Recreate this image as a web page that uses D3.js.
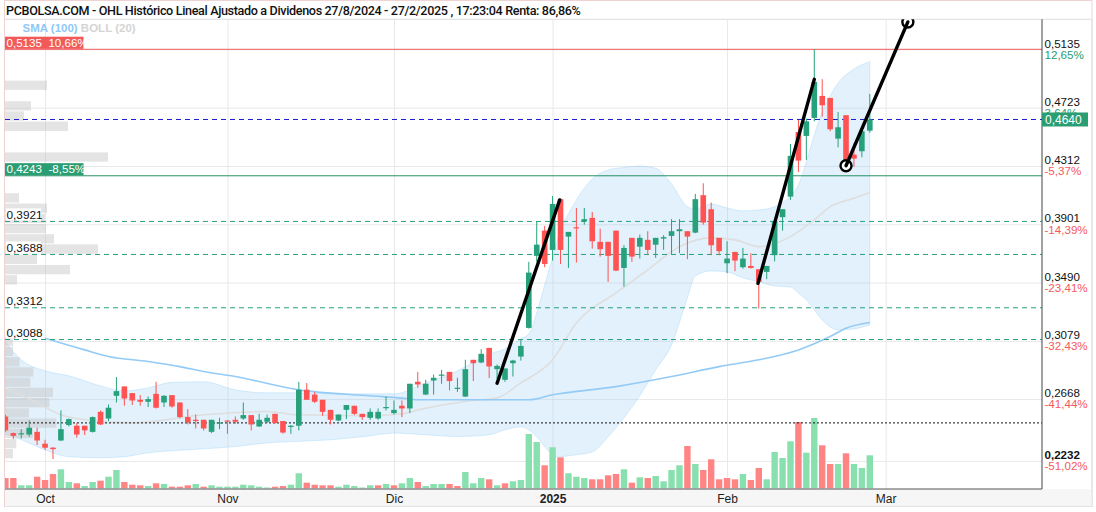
<!DOCTYPE html>
<html>
<head>
<meta charset="utf-8">
<script src="https://cdnjs.cloudflare.com/ajax/libs/d3/7.8.5/d3.min.js"></script>
<style>
  body { margin: 0; background: #fff; }
  svg { display: block; font-family: "Liberation Sans", Arial, sans-serif; }
  .pre { white-space: pre; }
</style>
</head>
<body>
<svg id="chart" width="1096" height="512"></svg>
<script>
// ---- data (trading day index 0 = 24/9/2024) ----
const openP = [
  .2545,.2428,.2420,.2418,.2437,.2353,.2325,.2376,.2485,.2480,
  .2480,.2437,.2578,.2531,.2691,.2757,.2710,.2663,.2649,.2705,
  .2644,.2696,.2644,.2541,.2522,.2522,.2437,.2499,.2517,.2522,
  .2531,.2555,.2475,.2508,.2564,.2513,.2473,.2480,.2734,.2700,
  .2663,.2592,.2517,.2592,.2621,.2564,.2536,.2531,.2607,.2569,
  .2621,.2602,.2790,.2700,.2799,.2837,.2860,.2743,.2686,.2945,
  .2926,.3029,.2879,.2804,.2921,.2968,.3170,.3678,.3856,.3720,
  .4078,.3814,.3880,.3922,.3946,.3777,.3777,.3856,.3593,.3805,
  .3743,.3791,.3757,.3800,.3819,.3852,.3852,.3842,.4106,.4007,
  .3805,.3626,.3706,.3598,.3607,.3584,.3565,.3683,.3951,.4096,
  .4552,.4524,.4651,.4806,.4792,.4505,.4670,.4392,.4416,.4561];
const highP = [
  .2557,.2432,.2456,.2517,.2466,.2381,.2330,.2588,.2531,.2499,
  .2480,.2545,.2588,.2630,.2823,.2757,.2710,.2696,.2686,.2790,
  .2696,.2696,.2644,.2597,.2559,.2522,.2522,.2536,.2517,.2545,
  .2644,.2555,.2564,.2559,.2564,.2513,.2485,.2790,.2781,.2719,
  .2663,.2592,.2559,.2626,.2621,.2564,.2602,.2602,.2686,.2658,
  .2658,.2776,.2860,.2804,.2841,.2874,.2860,.2818,.2945,.2945,
  .3020,.3029,.2912,.2884,.2945,.3085,.3636,.3922,.3889,.4101,
  .4078,.3847,.4016,.4016,.3988,.3870,.3777,.3856,.3753,.3805,
  .3828,.3852,.3805,.3824,.3937,.3937,.3852,.4115,.4190,.4054,
  .3805,.3781,.3706,.3734,.3697,.3584,.3607,.3922,.4007,.4467,
  .4637,.4646,.5135,.4924,.4792,.4693,.4670,.4472,.4557,.4820];
const lowP = [
  .2437,.2386,.2390,.2404,.2344,.2310,.2245,.2372,.2475,.2395,
  .2414,.2432,.2485,.2513,.2644,.2621,.2626,.2621,.2612,.2602,
  .2612,.2607,.2531,.2489,.2461,.2447,.2428,.2456,.2423,.2494,
  .2522,.2447,.2471,.2499,.2494,.2423,.2423,.2447,.2663,.2640,
  .2550,.2489,.2513,.2527,.2555,.2522,.2522,.2522,.2588,.2559,
  .2541,.2569,.2748,.2696,.2700,.2776,.2729,.2719,.2682,.2795,
  .2921,.2816,.2809,.2790,.2827,.2940,.3165,.3636,.3598,.3645,
  .3621,.3593,.3631,.3898,.3729,.3673,.3495,.3570,.3461,.3636,
  .3659,.3683,.3664,.3720,.3692,.3697,.3655,.3838,.3898,.3683,
  .3683,.3556,.3570,.3588,.3588,.3306,.3514,.3640,.3856,.4073,
  .4270,.4355,.4627,.4660,.4557,.4444,.4331,.4307,.4374,.4547];
const closeP = [
  .2447,.2409,.2427,.2466,.2376,.2325,.2315,.2456,.2527,.2418,
  .2447,.2541,.2489,.2607,.2724,.2672,.2658,.2649,.2668,.2607,
  .2691,.2616,.2541,.2503,.2513,.2461,.2522,.2503,.2513,.2508,
  .2555,.2489,.2522,.2536,.2499,.2432,.2480,.2734,.2663,.2649,
  .2578,.2522,.2559,.2626,.2564,.2541,.2578,.2578,.2612,.2592,
  .2602,.2776,.2771,.2776,.2818,.2841,.2795,.2748,.2879,.2921,
  .2987,.2898,.2902,.2884,.2940,.3043,.3560,.3757,.3621,.4044,
  .3720,.3847,.3875,.3937,.3781,.3725,.3678,.3574,.3734,.3673,
  .3805,.3720,.3805,.3810,.3852,.3866,.3814,.4078,.3913,.3753,
  .3711,.3659,.3645,.3659,.3593,.3495,.3607,.3922,.4007,.4383,
  .4350,.4627,.4905,.4740,.4571,.4585,.4341,.4364,.4557,.4640];
// volume (millions) and its colour: g = up on previous close, r = down
const volume = [
  1.03,1.03,0.30,0.30,1.16,0.83,1.43,1.90,0.63,0.50,
  0.23,0.63,0.76,1.16,1.83,0.63,0.36,0.30,0.23,0.50,
  0.43,0.16,0.16,0.30,0.43,0.16,0.30,0.16,0.16,0.16,
  0.36,0.30,0.16,0.08,0.16,0.23,0.36,1.50,0.56,0.36,
  0.30,0.30,0.16,0.36,0.23,0.08,0.30,0.30,0.43,0.30,
  0.50,1.03,0.63,0.23,0.43,0.43,0.43,0.23,1.63,0.50,
  1.03,0.90,0.30,0.50,0.70,0.83,5.43,4.63,2.30,4.10,
  3.10,1.50,1.16,1.03,0.90,0.90,1.30,1.43,1.90,0.56,
  1.10,1.03,1.23,0.70,1.83,2.30,4.23,2.43,1.83,2.90,
  0.90,1.03,0.90,1.43,0.83,2.03,0.90,3.63,3.03,4.70,
  6.63,3.56,7.03,4.30,2.43,2.43,3.50,2.43,2.03,3.30];
const volDir = ("rrggrrrggr" + "ggrggrrrgr" + "grrrgrgggg" + "ggggrrggrr" + "rrgggggrgr" +
                "ggrgggrrgg" + "grgrggggrg" + "rgggrrrrgr" + "grggggrgrr" + "rrrgrrgggg" +
                "rggrrgrggg").split('');

// Bollinger (20) band, sampled points
const bandIdx = [0,2,5,8,12,15,18,21,25,29,33,37,41,45,49,53,57,61,63,65,66,67,68,69,70,71,72,74,76,78,80,82,84,86,87,89,91,93,95,97,99,100,101,102,103,104,105,107,109];
const bandUp = [.3072,.2945,.2867,.2832,.2761,.2726,.2747,.2786,.2790,.2733,.2712,.2712,.2705,.2705,.2705,.2782,.2867,.2987,.3022,.3093,.3128,.3276,.3473,.3664,.3861,.3974,.4073,.4221,.4284,.4302,.4312,.4296,.4185,.4025,.4009,.4044,.4016,.3995,.4002,.4025,.4101,.4178,.4341,.4531,.4693,.4806,.4897,.4996,.5048];
const bandLo = [.2423,.2381,.2310,.2261,.2254,.2261,.2289,.2303,.2317,.2333,.2359,.2370,.2381,.2402,.2428,.2416,.2404,.2416,.2451,.2472,.2451,.2402,.2333,.2275,.2261,.2268,.2275,.2296,.2402,.2536,.2691,.2874,.3050,.3382,.3537,.3572,.3565,.3523,.3495,.3466,.3459,.3417,.3368,.3297,.3227,.3177,.3156,.3163,.3191];
const midIdx = [0,4,7,10,16,25,33,37,46,50,52,58,62,65,69,72,77,81,85,89,92,95,99,102,104,107,109];
const midVal = [.2747,.2641,.2557,.2522,.2500,.2557,.2580,.2557,.2550,.2564,.2592,.2651,.2677,.2782,.2945,.3205,.3417,.3579,.3743,.3805,.3791,.3743,.3814,.3932,.4025,.4085,.4124];
// SMA (100)
const smaIdx = [5,10,13,18,22,25,29,37,46,50,52,66,69,77,84,90,95,100,104,106,109];
const smaVal = [.3098,.3015,.2968,.2933,.2897,.2862,.2827,.2733,.2691,.2675,.2663,.2663,.2698,.2756,.2827,.2897,.2945,.3015,.3109,.3168,.3208];

// volume profile: bin top price and volume
const profTop = [.4914,.4769,.4697,.4625,.4408,.4120,.4047,.3975,.3903,.3831,.3759,.3686,.3614,.3542,.3109,.3037,.2964,.2892,.2820,.2748,.2676,.2603,.2531,.2459,.2387,.2316];
const profVol = [42,26,19,63,103,14,42,40,41,49,93,32,65,12,8,8,14.6,28.3,25.3,48,44.3,24,51.3,28,11.3,8];
const profBin = 0.00656;

// axes
const idxTicks = [5, 28, 49, 69, 91, 111];
const monthLabels = ['Oct', 'Nov', 'Dic', '2025', 'Feb', 'Mar'];
const priceTicks = [0.5135, 0.4723, 0.4312, 0.3901, 0.3490, 0.3079, 0.2668, 0.2232];
const pctTicks = ['12,65%', '3,64%', '-5,37%', '-14,39%', '-23,41%', '-32,43%', '-41,44%', '-51,02%'];

// horizontal levels
const dashLevels = [0.3921, 0.3688, 0.3312, 0.3088];
const topLevel = 0.5135, topTag = '10,66%';
const supLevel = 0.4243, supTag = '-8,55%';
const lastPrice = 0.4640;
const dotLevel = 0.2500;

// hand-drawn trend lines [idx0, price0, idx1, price1]
const trendLines = [[62.0, 0.2780, 69.9, 0.4073], [94.9, 0.3485, 102.0, 0.4923], [106.0, 0.4314, 113.8, 0.5328]];

const title = 'PCBOLSA.COM - OHL Histórico Lineal Ajustado a Dividenos 27/8/2024 - 27/2/2025 , 17:23:04 Renta: 86,86%';

// ---- layout ----
const plotL = 5, plotR = 1042, plotT = 19.3, plotB = 489;
const UP = '#26a17b', DN = '#ff5252';
const fmt = v => d3.format('.4f')(v).replace('.', ',');

const svg = d3.select('#chart');
const x = d3.scaleLinear().domain([0, 109]).range([5.4, 869.8]);
const y = d3.scaleLinear().domain([0.2232, 0.5135]).range([460.9, 49.3]);
const vy = d3.scaleLinear().domain([0, 7.03]).range([488.3, 418]);
const pw = d3.scaleLinear().domain([0, 103]).range([0, 103]);

svg.append('defs').append('clipPath').attr('id', 'clip')
  .append('rect').attr('x', plotL).attr('y', plotT).attr('width', plotR - plotL).attr('height', plotB - plotT);

// frame and title
svg.append('rect').attr('x', 4.5).attr('y', 0.5).attr('width', 1087.5).attr('height', 506)
  .attr('fill', 'none').attr('stroke', '#efd3d3');
svg.append('rect').attr('x', 5).attr('y', plotB).attr('width', 1087).attr('height', 17).attr('fill', '#f6f6f6');
svg.append('text').attr('x', 6).attr('y', 14.5).text(title)
  .style('font-family', 'Roboto, sans-serif').style('font-weight', 500).style('font-size', '12.6px')
  .style('letter-spacing', '-0.35px').attr('fill', '#111');
svg.append('line').attr('x1', 5).attr('x2', 1092).attr('y1', plotT).attr('y2', plotT).attr('stroke', '#dcdcdc');

// grid
const gridV = svg.append('g').attr('transform', `translate(0,${plotB})`)
  .call(d3.axisBottom(x).tickValues(idxTicks).tickSize(-(plotB - plotT)).tickFormat(''));
gridV.select('.domain').remove();
gridV.selectAll('line').attr('stroke', '#e8e8e8');
const gridH = svg.append('g').attr('transform', `translate(${plotL},0)`)
  .call(d3.axisRight(y).tickValues(priceTicks).tickSize(plotR - plotL).tickFormat(''));
gridH.select('.domain').remove();
gridH.selectAll('line').attr('stroke', '#e8e8e8');

const g = svg.append('g').attr('clip-path', 'url(#clip)');

// bollinger band
const band = bandIdx.map((d, i) => ({ i: d, hi: bandUp[i], lo: bandLo[i] }));
g.append('path').datum(band)
  .attr('d', d3.area().x(d => x(d.i)).y0(d => y(d.lo)).y1(d => y(d.hi)).curve(d3.curveMonotoneX))
  .attr('fill', 'rgba(150,205,245,0.28)').attr('stroke', 'rgba(150,205,245,0.35)');

// volume
g.selectAll('.vol').data(volume).join('rect')
  .attr('x', (d, i) => x(i) - 3.2).attr('width', 6.4)
  .attr('y', d => vy(d)).attr('height', d => vy(0) - vy(d))
  .attr('fill', (d, i) => volDir[i] === 'g' ? '#88e0ae' : '#ff8585');

// volume profile
g.selectAll('.prof').data(profVol).join('rect')
  .attr('x', plotL).attr('width', d => pw(d))
  .attr('y', (d, i) => y(profTop[i])).attr('height', (d, i) => y(profTop[i] - profBin) - y(profTop[i]))
  .attr('fill', 'rgba(195,195,195,0.45)');

// moving averages
g.append('path').datum(midIdx.map((d, i) => [d, midVal[i]]))
  .attr('d', d3.line().x(d => x(d[0])).y(d => y(d[1])).curve(d3.curveMonotoneX))
  .attr('fill', 'none').attr('stroke', '#dedede').attr('stroke-width', 1.6);
g.append('path').datum(smaIdx.map((d, i) => [d, smaVal[i]]))
  .attr('d', d3.line().x(d => x(d[0])).y(d => y(d[1])).curve(d3.curveMonotoneX))
  .attr('fill', 'none').attr('stroke', '#93cbf6').attr('stroke-width', 1.6);

// level lines
const hline = (v, color, dash, w) => g.append('line')
  .attr('x1', plotL).attr('x2', plotR).attr('y1', y(v)).attr('y2', y(v))
  .attr('stroke', color).attr('stroke-width', w || 1).attr('stroke-dasharray', dash || null);
hline(topLevel, '#f25a5a');
hline(lastPrice, '#1a1acc', '5,4');
hline(supLevel, '#2a8f62');
dashLevels.forEach(v => hline(v, '#26a17b', '5,4'));
hline(dotLevel, '#111', '2,2');

// candles
const cg = g.selectAll('.candle').data(closeP).join('g');
cg.append('line')
  .attr('x1', (d, i) => x(i)).attr('x2', (d, i) => x(i))
  .attr('y1', (d, i) => y(highP[i])).attr('y2', (d, i) => y(lowP[i]))
  .attr('stroke', (d, i) => d >= openP[i] ? UP : DN);
cg.append('rect')
  .attr('x', (d, i) => x(i) - 2.8).attr('width', 5.6)
  .attr('y', (d, i) => y(Math.max(d, openP[i])))
  .attr('height', (d, i) => Math.max(1.2, Math.abs(y(d) - y(openP[i]))))
  .attr('fill', (d, i) => d >= openP[i] ? UP : DN);

// trend lines
trendLines.forEach((t, k) => {
  if (k === 2) {
    [[t[0], t[1]], [t[2], t[3]]].forEach(p => g.append('circle')
      .attr('cx', x(p[0])).attr('cy', y(p[1])).attr('r', 5.5)
      .attr('fill', '#fff').attr('stroke', '#000').attr('stroke-width', 2.4));
  }
  g.append('line').attr('x1', x(t[0])).attr('y1', y(t[1])).attr('x2', x(t[2])).attr('y2', y(t[3]))
    .attr('stroke', '#000').attr('stroke-width', 3.4).attr('stroke-linecap', 'round');
});

// left level labels
const tag = (v, text, bg) => {
  svg.append('rect').attr('x', plotL).attr('y', y(v) - 12.6).attr('width', 78.5).attr('height', 12.2).attr('fill', bg);
  svg.append('text').attr('class', 'pre').attr('x', 6.5).attr('y', y(v) - 2.8).text(text)
    .attr('fill', '#fff').style('font-size', '11.6px');
};
tag(topLevel, fmt(topLevel) + '  ' + topTag, '#f25a5a');
tag(supLevel, fmt(supLevel) + '  ' + supTag, '#2a9d73');
dashLevels.forEach(v => {
  svg.append('rect').attr('x', plotL + 1).attr('y', y(v) - 13).attr('width', 35).attr('height', 12).attr('fill', '#fff');
  svg.append('text').attr('x', 6.5).attr('y', y(v) - 2.4).text(fmt(v))
    .attr('fill', '#111').style('font-size', '11.8px');
});

// legend
const lg = svg.append('text').attr('x', 22.5).attr('y', 32).style('font-size', '11.5px').style('font-weight', 'bold');
lg.append('tspan').text('SMA (100)').attr('fill', '#90c8f5');
lg.append('tspan').text(' BOLL (20)').attr('fill', '#d4d4d4');

// axes
svg.append('line').attr('x1', plotL).attr('x2', plotR).attr('y1', plotB).attr('y2', plotB).attr('stroke', '#555');
svg.append('line').attr('x1', plotR).attr('x2', plotR).attr('y1', plotT).attr('y2', plotB).attr('stroke', '#444');
svg.append('line').attr('x1', 1092).attr('x2', 1092).attr('y1', plotT).attr('y2', 507).attr('stroke', '#e2e2e2');
svg.append('line').attr('x1', 5).attr('x2', 1092).attr('y1', 506.5).attr('y2', 506.5).attr('stroke', '#e2e2e2');

const gx = svg.append('g').attr('transform', `translate(0,${plotB})`)
  .call(d3.axisBottom(x).tickValues(idxTicks).tickSize(0).tickPadding(0).tickFormat((d, i) => monthLabels[i]));
gx.select('.domain').remove();
gx.selectAll('text').attr('y', 14).attr('dy', 0)
  .style('font-size', '12px').style('font-family', '"Liberation Sans", Arial, sans-serif')
  .style('font-weight', d => d === 69 ? 'bold' : 'normal').attr('fill', '#222');

const gy = svg.append('g').attr('transform', `translate(${plotR},0)`)
  .call(d3.axisRight(y).tickValues(priceTicks).tickSize(0).tickPadding(2.5).tickFormat(fmt));
gy.select('.domain').remove();
gy.selectAll('text').attr('dy', 0).attr('y', -2.3)
  .style('font-size', '11.6px').style('font-family', '"Liberation Sans", Arial, sans-serif')
  .style('font-weight', (d, i) => i === priceTicks.length - 1 ? 'bold' : 'normal').attr('fill', '#111');
gy.selectAll('.tick').append('text').attr('x', 2.5).attr('y', 8.8)
  .text((d, i) => pctTicks[i])
  .style('font-size', '11.6px').style('font-family', '"Liberation Sans", Arial, sans-serif')
  .attr('fill', (d, i) => pctTicks[i][0] === '-' ? '#f55a5a' : '#2a9d73');

// last price box
svg.append('rect').attr('x', plotR).attr('y', y(lastPrice) - 7).attr('width', 46).attr('height', 14).attr('fill', '#2a9d73');
svg.append('text').attr('x', plotR + 3).attr('y', y(lastPrice) + 4.2).text(fmt(lastPrice))
  .attr('fill', '#fff').style('font-size', '12px');
</script>
</body>
</html>
